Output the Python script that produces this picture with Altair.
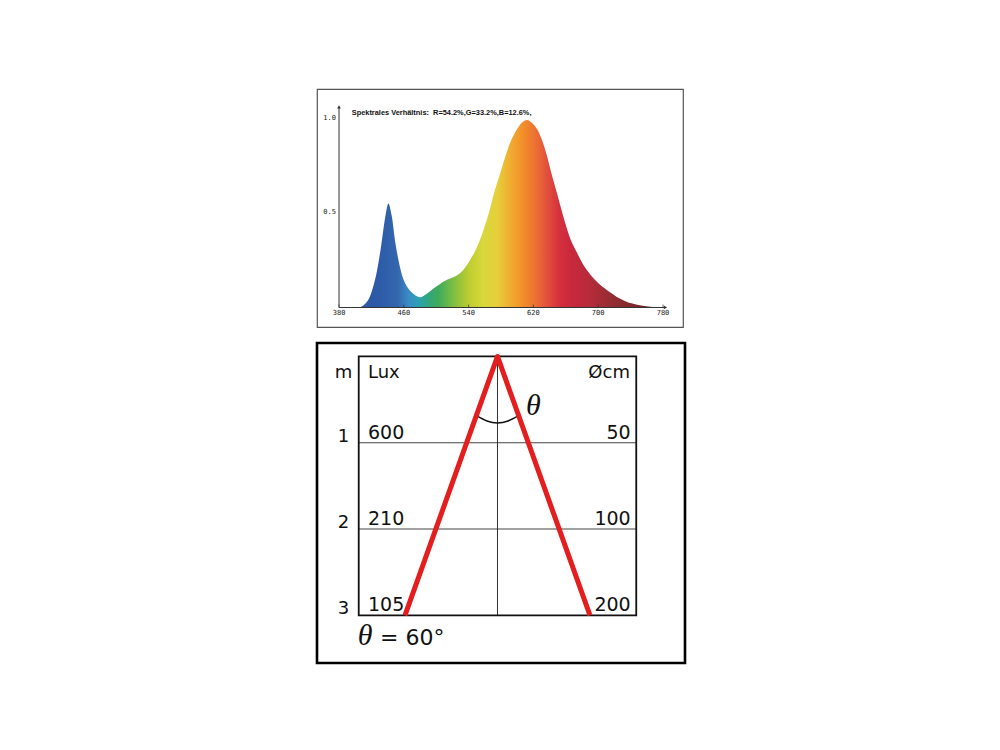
import altair as alt
import pandas as pd

# ---------------- top panel: spectrum ----------------
wavelength = [404, 408, 416, 424, 431, 437, 441, 445, 449, 455,
              461, 470, 480, 488, 498, 511, 523, 530, 536, 542,
              548, 554, 560, 566, 572, 579, 585, 591, 597, 602,
              607, 612, 618, 624, 630, 636, 642, 649, 655, 661,
              667, 674, 680, 686, 692, 698, 704, 711, 717, 723,
              729, 735, 741, 748, 755, 764, 772]
intensity = [0.0, 0.005, 0.04, 0.14, 0.30, 0.48, 0.555, 0.49, 0.36, 0.22,
             0.135, 0.08, 0.055, 0.072, 0.105, 0.143, 0.165, 0.185, 0.215, 0.255,
             0.30, 0.36, 0.435, 0.52, 0.62, 0.716, 0.80, 0.876, 0.93, 0.965,
             0.99, 1.0, 0.985, 0.955, 0.90, 0.82, 0.72, 0.61, 0.515, 0.425,
             0.35, 0.29, 0.24, 0.20, 0.167, 0.138, 0.114, 0.092, 0.074, 0.056,
             0.043, 0.031, 0.022, 0.015, 0.009, 0.004, 0.0]
stop_wl = [404, 430, 452, 466, 478, 490, 502, 520, 540, 558, 575,
           592, 608, 622, 636, 652, 668, 690, 712, 740, 772]
stop_color = ["#2b57a5", "#2d5ba8", "#3466ae", "#3a8cc6", "#2ba2b4", "#31a77e",
              "#3dab5b", "#79bd45", "#bccd2f", "#d8d83c", "#e6cf3a", "#f0ac30",
              "#f28d2a", "#ec7232", "#e2523c", "#d5303e", "#c8283c", "#b42c3a",
              "#9a2d34", "#80292c", "#6e2828"]
x_ticks = [380, 460, 540, 620, 700, 780]
y_ticks = [0.5, 1.0]
spec_title = "Spektrales Verhältnis:\u00a0\u00a0R=54.2%,G=33.2%,B=12.6%,"

# ---------------- bottom panel: beam diagram ----------------
distance_m = [1, 2, 3]
lux_values = ["600", "210", "105"]
diameter_cm = ["50", "100", "200"]
beam_angle_label = "θ = 60°"
cone_halfwidth_at_3m = 1.0      # drawing units (inner frame is ±1.5)
frame_halfwidth = 1.5

# ================= panel 1 =================
X1 = alt.Scale(domain=[352.8, 804.7], nice=False, zero=False)
Y1 = alt.Scale(domain=[-0.104, 1.165], nice=False, zero=False)

def x1(f):
    return alt.X(f, type="quantitative", scale=X1, axis=None)

def y1(f):
    return alt.Y(f, type="quantitative", scale=Y1, axis=None)

spec_df = pd.DataFrame({"wl": wavelength, "v": intensity})
lo, hi = min(wavelength), max(wavelength)
stops = [alt.GradientStop(color=c, offset=(w - lo) / (hi - lo)) for w, c in zip(stop_wl, stop_color)]

area = alt.Chart(spec_df).mark_area(
    interpolate="catmull-rom",
    color=alt.Gradient(gradient="linear", stops=stops, x1=0, x2=1, y1=0, y2=0),
).encode(x=x1("wl"), y=y1("v"), y2=alt.Y2Datum(0))

axis_df = pd.DataFrame({"x": [380, 380], "x2": [380, 783], "y": [0, 0], "y2": [1.07, 0]})
axes = alt.Chart(axis_df).mark_rule(color="#333333", strokeWidth=1).encode(
    x=x1("x"), x2="x2:Q", y=y1("y"), y2="y2:Q")

arrow_df = pd.DataFrame({"x": [380, 783], "y": [1.07, 0], "s": ["triangle-up", "triangle-right"]})
arrows = alt.Chart(arrow_df).mark_point(filled=True, size=14, color="#333333", opacity=1).encode(
    x=x1("x"), y=y1("y"), shape=alt.Shape("s:N", scale=None, legend=None))

xt_df = pd.DataFrame({"t": x_ticks, "lab": [str(t) for t in x_ticks]})
xlabels = alt.Chart(xt_df).mark_text(
    font="DejaVu Sans Mono", fontSize=7, color="#222222", baseline="middle", align="center", dy=6
).encode(x=x1("t"), y=alt.YDatum(0, scale=Y1, axis=None), text="lab:N")

xticks = alt.Chart(xt_df).mark_tick(color="#333333", thickness=1, size=3, orient="vertical").encode(
    x=x1("t"), y=alt.YDatum(0.008, scale=Y1, axis=None))

yt_df = pd.DataFrame({"t": y_ticks, "lab": ["%.1f" % t for t in y_ticks]})
ylabels = alt.Chart(yt_df).mark_text(
    font="DejaVu Sans Mono", fontSize=7, color="#222222", baseline="middle", align="right", dx=-3, dy=-2
).encode(x=alt.XDatum(380, scale=X1, axis=None), y=y1("t"), text="lab:N")

title_txt = alt.Chart(pd.DataFrame({"t": [spec_title]})).mark_text(
    font="Liberation Sans", fontSize=7.4, fontWeight="bold", color="#111111", align="left", baseline="middle"
).encode(x=alt.XDatum(395.7, scale=X1, axis=None), y=alt.YDatum(1.039, scale=Y1, axis=None), text="t:N")

p1 = alt.layer(area, axes, arrows, xticks, xlabels, ylabels, title_txt).properties(
    width=366, height=238, view=alt.ViewBackground(stroke="#555555", strokeWidth=1.2, fill="white"))

# ================= panel 2 =================
X2 = alt.Scale(domain=[-1.951, 2.027], nice=False, zero=False)
Y2 = alt.Scale(domain=[-0.156, 3.552], nice=False, zero=False, reverse=True)

def x2(f):
    return alt.X(f, type="quantitative", scale=X2, axis=None)

def y2(f):
    return alt.Y(f, type="quantitative", scale=Y2, axis=None)

def xd(v):
    return alt.XDatum(v, scale=X2, axis=None)

def yd(v):
    return alt.YDatum(v, scale=Y2, axis=None)

one = pd.DataFrame({"a": [0]})
frame = alt.Chart(one).mark_rect(fillOpacity=0, stroke="#111111", strokeWidth=1.8).encode(
    x=xd(-frame_halfwidth), x2=alt.X2Datum(frame_halfwidth), y=yd(0), y2=alt.Y2Datum(distance_m[-1]))

rows_df = pd.DataFrame({"d": distance_m, "lux": lux_values, "dia": diameter_cm,
                        "num": [str(d) for d in distance_m]})
grid = alt.Chart(rows_df[rows_df["d"] < distance_m[-1]]).mark_rule(color="#444444", strokeWidth=1.1).encode(
    y=y2("d"), x=xd(-frame_halfwidth), x2=alt.X2Datum(frame_halfwidth))

center = alt.Chart(one).mark_rule(color="#333333", strokeWidth=1).encode(
    x=xd(0), y=yd(0), y2=alt.Y2Datum(distance_m[-1]))

cone_df = pd.DataFrame({"x": [-cone_halfwidth_at_3m, 0, cone_halfwidth_at_3m],
                        "y": [distance_m[-1], 0, distance_m[-1]], "o": [0, 1, 2]})
cone = alt.Chart(cone_df).mark_line(color="#e41e1e", strokeWidth=5, strokeJoin="round", strokeCap="butt").encode(
    x=x2("x"), y=y2("y"), order="o:Q")

arc_df = pd.DataFrame({"x": [-0.222, -0.114, 0, 0.114, 0.222],
                       "y": [0.689, 0.747, 0.771, 0.747, 0.689]})
arc = alt.Chart(arc_df).mark_line(color="#111111", strokeWidth=1.5, interpolate="natural").encode(
    x=x2("x"), y=y2("y"))

FONT = "DejaVu Sans"
hdr = dict(font=FONT, fontSize=18, color="#111111", baseline="alphabetic")
num = dict(font=FONT, fontSize=19, color="#111111", baseline="alphabetic")

hdr_m = alt.Chart(pd.DataFrame({"t": ["m"]})).mark_text(align="center", dy=21.5, **hdr).encode(
    x=xd(-1.665), y=yd(0), text="t:N")
hdr_lux = alt.Chart(pd.DataFrame({"t": ["Lux"]})).mark_text(align="left", dy=21.5, **hdr).encode(
    x=xd(-1.40), y=yd(0), text="t:N")
hdr_dia = alt.Chart(pd.DataFrame({"t": ["Øcm"]})).mark_text(align="right", dy=21.5, **hdr).encode(
    x=xd(1.432), y=yd(0), text="t:N")

col_m = alt.Chart(rows_df).mark_text(align="center", dy=-1, **hdr).encode(
    x=xd(-1.665), y=y2("d"), text="num:N")
col_lux = alt.Chart(rows_df).mark_text(align="left", dy=-4, **num).encode(
    x=xd(-1.40), y=y2("d"), text="lux:N")
col_dia = alt.Chart(rows_df).mark_text(align="right", dy=-4, **num).encode(
    x=xd(1.44), y=y2("d"), text="dia:N")

theta_big = alt.Chart(pd.DataFrame({"t": ["θ"]})).mark_text(
    font="Liberation Serif", fontStyle="italic", fontSize=30, color="#111111",
    align="center", baseline="alphabetic").encode(x=xd(0.389), y=yd(0.678), text="t:N")

theta_lbl = alt.Chart(pd.DataFrame({"t": [beam_angle_label.split(" ", 1)[0]]})).mark_text(
    font="Liberation Serif", fontStyle="italic", fontSize=30, color="#111111",
    align="left", baseline="alphabetic").encode(x=xd(-1.511), y=yd(3.343), text="t:N")
eq_lbl = alt.Chart(pd.DataFrame({"t": [beam_angle_label.split(" ", 1)[1]]})).mark_text(
    font=FONT, fontSize=22, color="#111111", align="left", baseline="alphabetic").encode(
    x=xd(-1.270), y=yd(3.343), text="t:N")

p2 = alt.layer(grid, center, frame, arc, cone, hdr_m, hdr_lux, hdr_dia,
               col_m, col_lux, col_dia, theta_big, theta_lbl, eq_lbl).properties(
    width=368, height=320, view=alt.ViewBackground(stroke="#000000", strokeWidth=2.6, fill="white"))

chart = alt.vconcat(p1, p2, spacing=16, bounds="flush",
                    padding={"left": 307, "top": 80, "right": 5, "bottom": 5},
                    background="white")

chart.save("out.html", embed_options={"renderer": "svg", "actions": False})
